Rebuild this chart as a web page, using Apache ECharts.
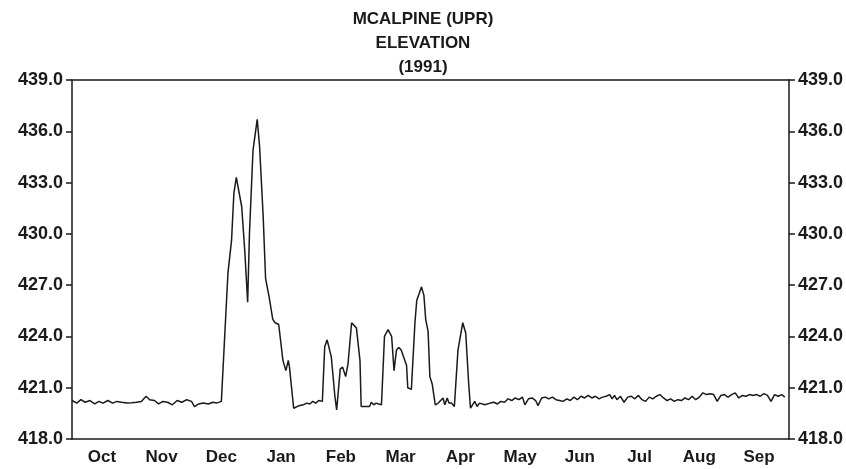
<!DOCTYPE html>
<html>
<head>
<meta charset="utf-8">
<script src="https://cdn.jsdelivr.net/npm/echarts@6/dist/echarts.min.js"></script>
<style>
  html, body { margin: 0; padding: 0; background: #fff; }
  #chart { width: 846px; height: 469px; }
</style>
</head>
<body>
<div id="chart"></div>
<script>
// water year 1991, x = months since Oct 1 (each month drawn the same width)
const months = ['Oct', 'Nov', 'Dec', 'Jan', 'Feb', 'Mar', 'Apr', 'May', 'Jun', 'Jul', 'Aug', 'Sep']

const fallBase = [
  [0.00, 420.25], [0.08, 420.1], [0.15, 420.3], [0.22, 420.15], [0.30, 420.25], [0.38, 420.05],
  [0.45, 420.2], [0.52, 420.1], [0.60, 420.25], [0.68, 420.1], [0.75, 420.2], [0.83, 420.15],
  [0.92, 420.1], [1.00, 420.12], [1.08, 420.15], [1.16, 420.2], [1.24, 420.5], [1.30, 420.3],
  [1.38, 420.25], [1.45, 420.05], [1.52, 420.2], [1.60, 420.15], [1.68, 420.0], [1.76, 420.25],
  [1.84, 420.15], [1.92, 420.3], [2.00, 420.2], [2.05, 419.9], [2.12, 420.05], [2.20, 420.1],
  [2.28, 420.05], [2.36, 420.15], [2.42, 420.1], [2.50, 420.2], [2.53, 420.2],
]

const decJan = [
  [2.61, 427.7], [2.67, 429.6], [2.71, 432.4], [2.75, 433.3], [2.84, 431.6], [2.89, 429.1],
  [2.94, 426.0], [2.97, 430.0], [3.03, 434.9], [3.10, 436.7], [3.14, 435.1], [3.20, 431.0],
  [3.24, 427.4], [3.30, 426.3], [3.36, 425.0], [3.40, 424.8], [3.46, 424.7], [3.53, 422.6],
  [3.58, 422.0], [3.62, 422.6], [3.64, 422.2], [3.71, 419.8], [3.80, 419.95], [3.87, 420.0],
  [3.93, 420.1], [3.98, 420.05], [4.03, 420.2], [4.08, 420.1], [4.13, 420.25], [4.19, 420.2],
]

const febApr = [
  [4.23, 423.4], [4.27, 423.8], [4.34, 422.8], [4.40, 420.5], [4.43, 419.7], [4.49, 422.1],
  [4.53, 422.2], [4.58, 421.65], [4.62, 422.4], [4.68, 424.8], [4.71, 424.9], [4.76, 424.5],
  [4.82, 422.6], [4.84, 419.9], [4.98, 419.9], [5.01, 420.15], [5.05, 420.0], [5.09, 420.1],
  [5.13, 420.05], [5.18, 420.0], [5.23, 424.0], [5.29, 424.4], [5.35, 424.0], [5.39, 422.0],
  [5.43, 423.2], [5.47, 423.35], [5.51, 423.2], [5.54, 423.3], [5.60, 422.3], [5.62, 421.0],
  [5.68, 420.9], [5.74, 424.8], [5.77, 426.1], [5.85, 426.9], [5.89, 426.4], [5.92, 425.0],
  [5.96, 424.3], [5.99, 421.65], [6.03, 421.2], [6.08, 420.0], [6.13, 420.1], [6.15, 420.0],
  [6.21, 420.4], [6.24, 420.0], [6.28, 420.4], [6.31, 420.1], [6.35, 420.1], [6.40, 419.9],
  [6.46, 423.2], [6.54, 424.8], [6.59, 424.2], [6.64, 421.2], [6.67, 419.8], [6.74, 420.2],
  [6.78, 419.9], [6.82, 420.1], [6.91, 420.0],
]

const summerBase = [
  [7.00, 420.1], [7.06, 420.15], [7.12, 420.05], [7.18, 420.2], [7.24, 420.15], [7.30, 420.35],
  [7.36, 420.25], [7.42, 420.4], [7.48, 420.3], [7.54, 420.45], [7.58, 420.0], [7.64, 420.35],
  [7.70, 420.4], [7.76, 420.25], [7.80, 419.95], [7.86, 420.4], [7.92, 420.45], [7.98, 420.35],
  [8.04, 420.45], [8.10, 420.3], [8.16, 420.25], [8.22, 420.2], [8.28, 420.35], [8.34, 420.25],
  [8.40, 420.45], [8.46, 420.3], [8.52, 420.5], [8.58, 420.4], [8.64, 420.55], [8.70, 420.4],
  [8.76, 420.5], [8.82, 420.35], [8.88, 420.45], [8.94, 420.5], [9.00, 420.6], [9.04, 420.35],
  [9.08, 420.55], [9.12, 420.3], [9.18, 420.5], [9.24, 420.15], [9.30, 420.45], [9.36, 420.5],
  [9.42, 420.35], [9.48, 420.55], [9.54, 420.3], [9.60, 420.2], [9.66, 420.45], [9.72, 420.35],
  [9.78, 420.5], [9.84, 420.6], [9.90, 420.4], [9.96, 420.25], [10.02, 420.35], [10.08, 420.2],
  [10.14, 420.3], [10.20, 420.25], [10.26, 420.4], [10.32, 420.3], [10.38, 420.5], [10.44, 420.3],
  [10.50, 420.45], [10.56, 420.7], [10.62, 420.6], [10.68, 420.65], [10.74, 420.6], [10.80, 420.2],
  [10.86, 420.55], [10.92, 420.6], [10.98, 420.45], [11.04, 420.6], [11.10, 420.7], [11.16, 420.4],
  [11.22, 420.55], [11.28, 420.5], [11.34, 420.6], [11.40, 420.55], [11.46, 420.6], [11.52, 420.5],
  [11.58, 420.65], [11.64, 420.55], [11.70, 420.2], [11.76, 420.6], [11.82, 420.5], [11.88, 420.6],
  [11.93, 420.45],
]

const elevation = [...fallBase, ...decJan, ...febApr, ...summerBase]

const ink = '#1a1a1a'
const font = 'Liberation Sans, Arial, sans-serif'

function yAxis(position) {
  return {
    type: 'value',
    position,
    min: 418,
    max: 439,
    interval: 3,
    axisLine: { show: true, lineStyle: { color: ink, width: 1.5 } },
    axisTick: { show: true, length: 6, lineStyle: { color: ink, width: 1.5 } },
    axisLabel: {
      color: ink,
      fontFamily: font,
      fontWeight: 'bold',
      fontSize: 18,
      margin: 9,
      formatter: (v) => v.toFixed(1),
    },
    splitLine: { show: false },
  }
}

const chart = echarts.init(document.getElementById('chart'))
chart.setOption({
  animation: false,
  backgroundColor: '#fff',
  title: {
    text: 'MCALPINE (UPR)\nELEVATION\n(1991)',
    left: 'center',
    top: 2,
    textStyle: {
      color: ink,
      fontFamily: font,
      fontWeight: 'bold',
      fontSize: 17,
      lineHeight: 24,
    },
  },
  grid: { left: 72, right: 57, top: 80, bottom: 30 },
  xAxis: [
    {
      type: 'category',
      data: months,
      position: 'bottom',
      boundaryGap: true,
      axisLine: { lineStyle: { color: ink, width: 1.5 } },
      axisTick: { length: 5, lineStyle: { color: ink, width: 1.5 } },
      axisLabel: { color: ink, fontFamily: font, fontWeight: 'bold', fontSize: 17, margin: 10 },
      splitLine: { show: false },
    },
    {
      type: 'value',
      position: 'top',
      min: 0,
      max: 12,
      axisLine: { show: true, onZero: false, lineStyle: { color: ink, width: 1.5 } },
      axisTick: { show: false },
      axisLabel: { show: false },
      splitLine: { show: false },
    },
  ],
  yAxis: [yAxis('left'), yAxis('right')],
  series: [
    {
      type: 'line',
      xAxisIndex: 1,
      yAxisIndex: 0,
      data: elevation,
      symbol: 'none',
      lineStyle: { color: ink, width: 1.5 },
    },
  ],
})
</script>
</body>
</html>
